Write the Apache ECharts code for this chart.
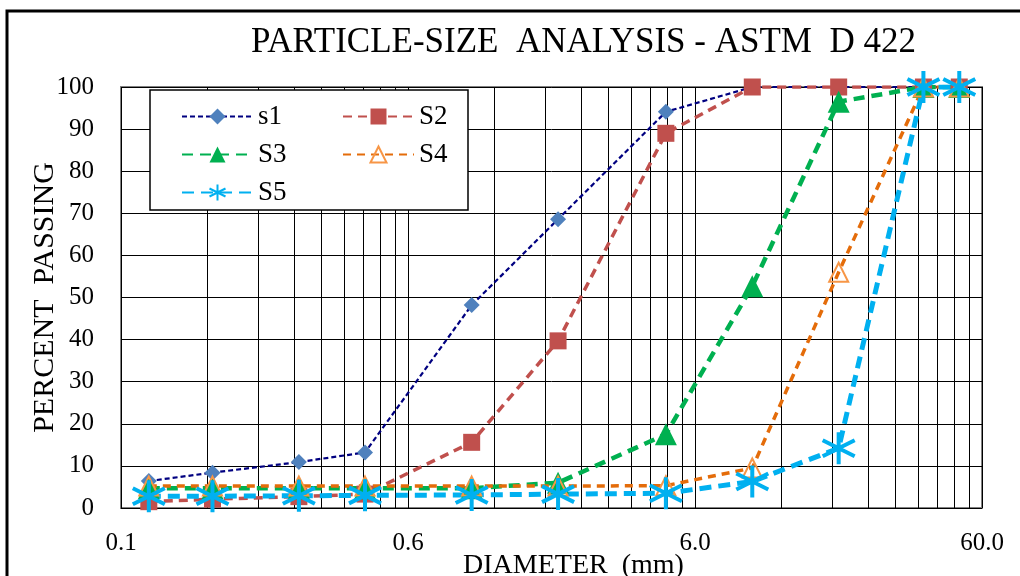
<!DOCTYPE html>
<html>
<head>
<meta charset="utf-8">
<script src="https://cdn.jsdelivr.net/npm/echarts@6/dist/echarts.min.js"></script>
<style>
  html, body { margin: 0; background: #fff; }
  #chart { width: 1020px; height: 576px; }
</style>
</head>
<body>
<div id="chart"></div>
<script>
// sieve openings (mm)
const diameters = [0.075, 0.125, 0.25, 0.425, 1.0, 2.0, 4.75, 9.5, 19, 37.5, 50];
// percent passing per sample
const s1 = [6.4, 8.4, 10.9, 13.2, 48.2, 68.6, 94.1, 100, 100, 100, 100];
const s2 = [1.5, 2.1, 2.7, 3.3, 15.6, 39.7, 89, 100, 100, 100, 100];
const s3 = [4.7, 4.7, 4.7, 4.7, 4.7, 6.0, 17.5, 52.7, 96.5, 100, 100];
const s4 = [5.2, 5.2, 5.2, 5.2, 5.2, 5.2, 5.3, 9.5, 56, 100, 100];
const s5 = [2.8, 2.8, 2.9, 3.0, 3.1, 3.3, 3.5, 6.3, 14.2, 100, 100];

// axis: excel style log axis 0.06 .. 60, labels formatted with one decimal
const xLabelValues = [0.06, 0.6, 6, 60];
const xGridValues = [];
[0.06, 0.6, 6].forEach(function (d) {
  for (let k = 1; k <= 9; k++) xGridValues.push(+(d * k).toPrecision(3));
});
xGridValues.push(60);

const font = "'Liberation Serif', 'Times New Roman', serif";
const asterisk = "path://M10 0L10 20M1.3 5L18.7 15M1.3 15L18.7 5";

function pairs(ys) {
  return diameters.map(function (d, i) { return [d, ys[i]]; });
}

const chart = echarts.init(document.getElementById("chart"));
chart.setOption({
  backgroundColor: "#fff",
  animation: false,
  title: {
    text: "PARTICLE-SIZE  ANALYSIS - ASTM  D 422",
    left: 246,
    top: 20,
    textStyle: { fontFamily: font, fontSize: 35, fontWeight: "normal", color: "#000" }
  },
  legend: {
    left: 176,
    top: 97,
    width: 320,
    itemWidth: 71,
    itemHeight: 20,
    itemGap: 9,
    textStyle: { fontFamily: font, fontSize: 27, color: "#000", width: 75, lineHeight: 29 },
    data: ["s1", "S2", "S3", "S4", "S5"]
  },
  grid: {
    left: 121,
    right: 38,
    top: 87,
    bottom: 68,
    outerBoundsMode: "none",
    show: true,
    borderColor: "#808080",
    borderWidth: 2
  },
  xAxis: {
    type: "log",
    logBase: 10,
    min: 0.06,
    max: 60,
    name: "DIAMETER  (mm)",
    nameLocation: "middle",
    nameGap: 44,
    nameMoveOverlap: false,
    nameTextStyle: { fontFamily: font, fontSize: 28, color: "#000", padding: [0, 0, 0, 44] },
    axisLine: { show: false },
    axisTick: { show: false, customValues: xGridValues },
    axisLabel: {
      customValues: xLabelValues,
      margin: 23,
      fontFamily: font,
      fontSize: 25,
      color: "#000",
      formatter: function (v) { return (+v).toFixed(1); }
    },
    splitLine: { show: true, lineStyle: { color: "#000", width: 1 } }
  },
  yAxis: {
    type: "value",
    min: 0,
    max: 100,
    interval: 10,
    name: "PERCENT  PASSING",
    nameLocation: "middle",
    nameGap: 61,
    nameMoveOverlap: false,
    nameTextStyle: { fontFamily: font, fontSize: 30, color: "#000" },
    axisLine: { show: false },
    axisTick: { show: false },
    axisLabel: { margin: 27, fontFamily: font, fontSize: 25, color: "#000" },
    splitLine: { lineStyle: { color: "#000", width: 1 } }
  },
  graphic: [
    {
      type: "rect",
      z: 3,
      shape: { x: 150, y: 90, width: 318, height: 120 },
      style: { fill: "#fff", stroke: "#000", lineWidth: 1.5 }
    },
    {
      type: "rect",
      z: 10,
      shape: { x: 7, y: 11, width: 1040, height: 620 },
      style: { fill: "none", stroke: "#000", lineWidth: 3 }
    }
  ],
  series: [
    {
      name: "s1",
      type: "line",
      data: pairs(s1),
      symbol: "diamond",
      symbolSize: 16,
      itemStyle: { color: "#4F81BD" },
      lineStyle: { color: "#000080", width: 2.2, type: [5, 3] }
    },
    {
      name: "S2",
      type: "line",
      data: pairs(s2),
      symbol: "rect",
      symbolSize: 17,
      itemStyle: { color: "#C0504D" },
      lineStyle: { color: "#C0504D", width: 3.5, type: [9, 6] }
    },
    {
      name: "S3",
      type: "line",
      data: pairs(s3),
      symbol: "triangle",
      symbolSize: 22,
      itemStyle: { color: "#00B050" },
      lineStyle: { color: "#00B050", width: 4.5, type: [11, 7] }
    },
    {
      name: "S4",
      type: "line",
      data: pairs(s4),
      symbol: "triangle",
      symbolSize: 19,
      itemStyle: { color: "rgba(255,255,255,0)", borderColor: "#F79646", borderWidth: 2 },
      lineStyle: { color: "#E46C0A", width: 3.5, type: [8, 6] }
    },
    {
      name: "S5",
      type: "line",
      data: pairs(s5),
      symbol: asterisk,
      symbolSize: 32,
      itemStyle: { color: "#00B0F0", borderColor: "#00B0F0", borderWidth: 4 },
      lineStyle: { color: "#00B0F0", width: 5, type: [12, 7] }
    }
  ]
});
</script>
</body>
</html>
